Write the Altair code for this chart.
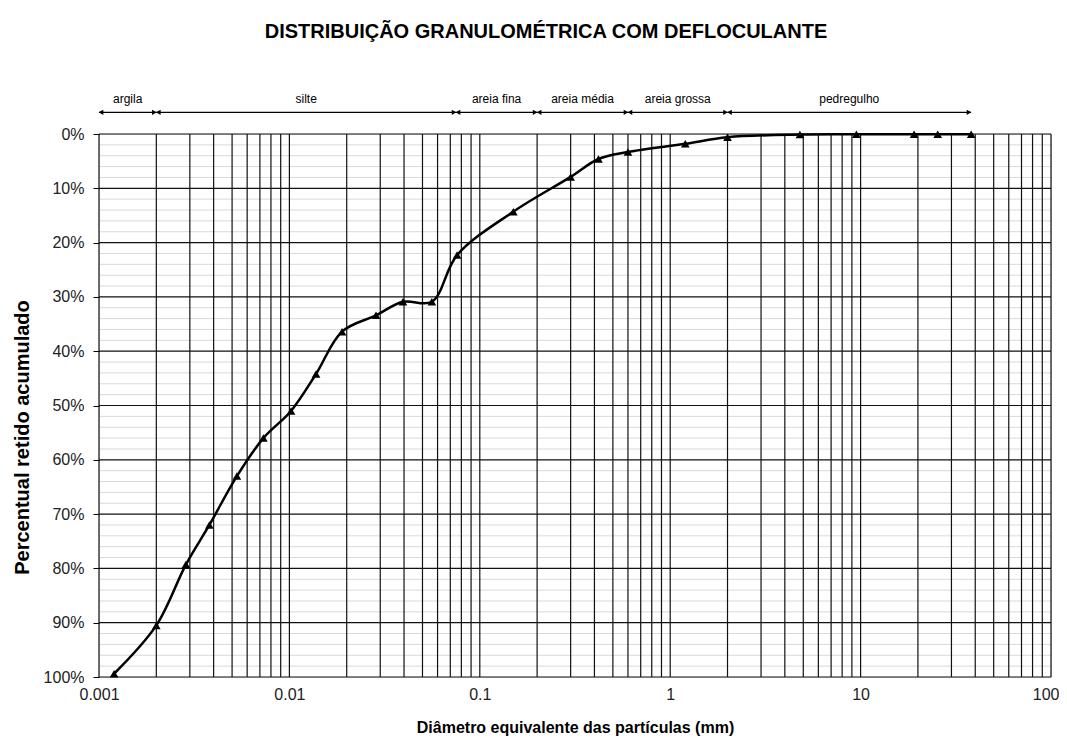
import altair as alt
import pandas as pd

# data
diam = [0.0012, 0.002, 0.00286, 0.0038, 0.0053, 0.0073, 0.0102, 0.0138, 0.0189,
        0.0285, 0.0395, 0.056, 0.076, 0.15, 0.3, 0.42, 0.6, 1.2, 2.0, 4.8, 9.5,
        19.1, 25.4, 38.1]
retido = [99.4, 90.5, 79.3, 72.0, 63.0, 56.0, 51.0, 44.2, 36.4, 33.4, 30.9, 30.9,
          22.3, 14.3, 7.9, 4.6, 3.3, 1.8, 0.6, 0.1, 0.05, 0.05, 0.05, 0.05]

x_grid = [0.001, 0.002, 0.003, 0.004, 0.005, 0.006, 0.007, 0.008, 0.009,
          0.01, 0.02, 0.03, 0.04, 0.05, 0.06, 0.07, 0.08, 0.09,
          0.1, 0.2, 0.3, 0.4, 0.5, 0.6, 0.7, 0.8, 0.9,
          1, 2, 3, 4, 5, 6, 7, 8, 9,
          10, 20, 30, 40, 50, 60, 70, 80, 90, 100]
x_labels = [0.001, 0.01, 0.1, 1, 10, 100]
y_major = [0, 10, 20, 30, 40, 50, 60, 70, 80, 90, 100]
y_minor = [v for v in range(0, 101, 2) if v % 10 != 0]

faixas = ["argila", "silte", "areia fina", "areia média", "areia grossa", "pedregulho"]
faixa_ini = [0.001, 0.002, 0.075, 0.2, 0.6, 2.0]
faixa_fim = [0.002, 0.075, 0.2, 0.6, 2.0, 38.0]
arrow_y = -4.0
label_y = -6.5

df = pd.DataFrame({"d": diam, "p": retido})
xg = pd.DataFrame({"x": x_grid})
ymaj = pd.DataFrame({"y": y_major})
ymin = pd.DataFrame({"y": y_minor})
fx = pd.DataFrame({"nome": faixas, "ini": faixa_ini, "fim": faixa_fim})
fx["mid"] = (fx["ini"] * fx["fim"]) ** 0.5
fx["ya"] = arrow_y
fx["yl"] = label_y

FONT = "Liberation Sans"

xscale = alt.Scale(type="log", domain=[0.001, 100], nice=False)
yscale = alt.Scale(domain=[0, 100], reverse=True, nice=False, zero=False)

xenc = alt.X("d:Q", scale=xscale,
             axis=alt.Axis(values=x_labels, grid=False, ticks=False, domain=False,
                           labelExpr="format(datum.value, '')",
                           labelFont=FONT, labelFontSize=16, labelColor="#222",
                           labelPadding=9, labelFlush=False,
                           labelAlign={"condition": {"test": "datum.value >= 100", "value": "right"},
                                       "value": "center"},
                           labelOffset={"condition": {"test": "datum.value >= 100", "value": 8},
                                        "value": 0},
                           title="Diâmetro equivalente das partículas (mm)",
                           titleFont=FONT, titleFontSize=16, titleFontWeight="bold",
                           titleColor="#000", titlePadding=17))
yenc = alt.Y("p:Q", scale=yscale,
             axis=alt.Axis(values=y_major, grid=False, ticks=True, tickSize=6,
                           tickColor="#000", domain=False,
                           labelExpr="datum.value + '%'",
                           labelFont=FONT, labelFontSize=16, labelColor="#222",
                           labelPadding=9,
                           title="Percentual retido acumulado",
                           titleFont=FONT, titleFontSize=20, titleFontWeight="bold",
                           titleColor="#000", titlePadding=11, titleY=303))

minor = alt.Chart(ymin).mark_rule(color="#d9d9d9", strokeWidth=1).encode(
    y=alt.Y("y:Q", scale=yscale))
vert = alt.Chart(xg).mark_rule(color="#111", strokeWidth=1.2).encode(
    x=alt.X("x:Q", scale=xscale))
major = alt.Chart(ymaj).mark_rule(color="#111", strokeWidth=1.2).encode(
    y=alt.Y("y:Q", scale=yscale))

line = alt.Chart(df).mark_line(color="#000", strokeWidth=2.5,
                               interpolate="catmull-rom").encode(x=xenc, y=yenc)
pts = alt.Chart(df).mark_point(shape="triangle-up", filled=True, color="#000",
                               size=75, opacity=1).encode(
    x=alt.X("d:Q", scale=xscale), y=alt.Y("p:Q", scale=yscale))

arr_line = alt.Chart(fx).mark_rule(color="#000", strokeWidth=1.3).encode(
    x=alt.X("ini:Q", scale=xscale), x2="fim:Q", y=alt.Y("ya:Q", scale=yscale))
arr_l = alt.Chart(fx).mark_point(shape="triangle-left", filled=True, color="#000",
                                 size=28, opacity=1, xOffset=2).encode(
    x=alt.X("ini:Q", scale=xscale), y=alt.Y("ya:Q", scale=yscale))
arr_r = alt.Chart(fx).mark_point(shape="triangle-right", filled=True, color="#000",
                                 size=28, opacity=1, xOffset=-2).encode(
    x=alt.X("fim:Q", scale=xscale), y=alt.Y("ya:Q", scale=yscale))
arr_t = alt.Chart(fx).mark_text(font=FONT, fontSize=12, color="#000").encode(
    x=alt.X("mid:Q", scale=xscale), y=alt.Y("yl:Q", scale=yscale), text="nome:N")

chart = alt.layer(minor, vert, major, line, pts, arr_line, arr_l, arr_r, arr_t).properties(
    width=952, height=543,
    autosize=alt.AutoSizeParams(type="none"),
    padding={"left": 91, "top": 126, "right": 8, "bottom": 60},
    title=alt.TitleParams("DISTRIBUIÇÃO GRANULOMÉTRICA COM DEFLOCULANTE",
                          font=FONT, fontSize=20, fontWeight="bold", color="#000",
                          offset=51, dx=-29, anchor="middle"),
).configure_view(stroke="#111", strokeWidth=1.2).configure(background="white")

chart.save("out.html", embed_options={"renderer": "svg", "actions": False})
